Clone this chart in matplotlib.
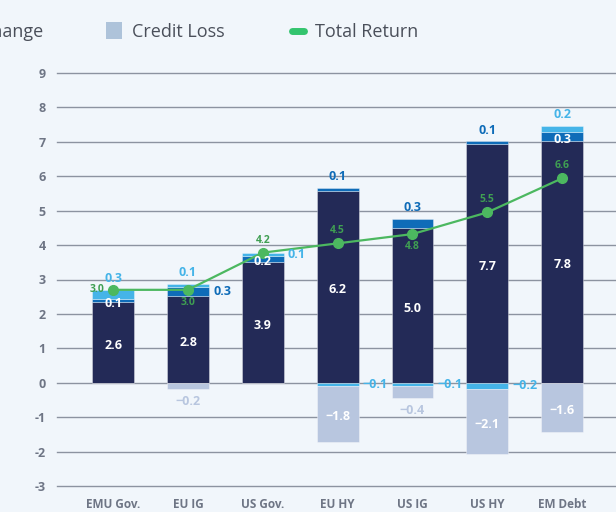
import matplotlib.pyplot as plt
import numpy as np

# return decomposition per asset class (%)
categories = ["EMU Gov.", "EU IG", "US Gov.", "EU HY", "US IG", "US HY", "EM Debt"]
yield_part = [2.6, 2.8, 3.9, 6.2, 5.0, 7.7, 7.8]
roll_down = [0.1, 0.3, 0.2, 0.1, 0.3, 0.1, 0.3]
spread_change = [0.3, 0.1, 0.1, -0.1, -0.1, -0.2, 0.2]
credit_loss = [0.0, -0.2, 0.0, -1.8, -0.4, -2.1, -1.6]
total_return = [3.0, 3.0, 4.2, 4.5, 4.8, 5.5, 6.6]
y_ticks = list(range(-3, 10))

# where each value label sits
roll_pos = ["in", "right", "in", "above", "above", "above", "in"]
spread_pos = ["above", "above", "right", "right", "right", "right", "above"]
credit_pos = [None, "below", None, "in", "below", "in", "in"]
total_pos = ["left", "below", "above", "above", "below", "above", "above"]

# in the original the gridlines are spaced a bit wider than the bars' units
axis_ratio = 0.9

navy = "#232a57"
mid = "#0f6cb8"
light = "#45b4e8"
loss = "#b8c6df"
green = "#4cb860"
bg = "#f1f6fb"
grey = "#6e7585"

plt.rcParams["font.family"] = ["Open Sans", "DejaVu Sans"]

fig = plt.figure(figsize=(6.16, 5.12), dpi=100, facecolor=bg)
ax = fig.add_axes([57 / 616, 26 / 512, 1 - 57 / 616, 413 / 512])
ax.set_facecolor(bg)

x = np.arange(len(categories))
w = 0.56
yl = np.array(yield_part)
rd = np.array(roll_down)
sc = np.array(spread_change)
cl = np.array(credit_loss)

edge = dict(edgecolor=(1, 1, 1, 0.35), linewidth=0.7, zorder=3)
ax.bar(x, yl, w, color=navy, **edge)
ax.bar(x, rd, w, bottom=yl, color=mid, **edge)
sc_bottom = np.where(sc > 0, yl + rd, 0)
ax.bar(x, sc, w, bottom=sc_bottom, color=light, **edge)
cl_bottom = np.where(sc < 0, sc, 0)
ax.bar(x, cl, w, bottom=cl_bottom, color=loss, **edge)

ax.plot(x, total_return, color=green, lw=1.6, marker="o", ms=7, zorder=5)

for t in y_ticks:
    ax.axhline(t / axis_ratio, color="#8c93a0", lw=1.0, zorder=1, clip_on=False)

ax.set_xlim(-0.75, 6.72)
ax.set_ylim(-3 / axis_ratio, 9 / axis_ratio)
ax.set_yticks([t / axis_ratio for t in y_ticks])
ax.set_yticklabels([str(t) for t in y_ticks])
ax.set_xticks(x)
ax.set_xticklabels(categories)
ax.tick_params(length=0, labelsize=9, labelcolor=grey)
ax.tick_params(axis="y", pad=8)
ax.tick_params(axis="x", pad=9, labelsize=8.5)
for lab in ax.get_xticklabels() + ax.get_yticklabels():
    lab.set_fontweight("bold")
for s in ax.spines.values():
    s.set_visible(False)


def fmt(v):
    return ("\u2212" if v < 0 else "") + f"{abs(v):.1f}"


def label(i, lo, hi, val, pos, color, inner="white"):
    top = max(lo, hi)
    bot = min(lo, hi)
    if pos == "in":
        ax.annotate(fmt(val), ((i), (lo + hi) / 2), xytext=(0, -2), textcoords="offset points",
                    ha="center", va="center", color=inner, fontsize=9, fontweight="bold", zorder=6)
    elif pos == "above":
        ax.annotate(fmt(val), (i, top), xytext=(0, 8), textcoords="offset points",
                    ha="center", va="center", color=color, fontsize=9, fontweight="bold", zorder=6)
    elif pos == "below":
        ax.annotate(fmt(val), (i, bot), xytext=(0, -9), textcoords="offset points",
                    ha="center", va="center", color=color, fontsize=9, fontweight="bold", zorder=6)
    elif pos == "right":
        ax.annotate(fmt(val), (i + w / 2, (lo + hi) / 2), xytext=(3, 0), textcoords="offset points",
                    ha="left", va="center", color=color, fontsize=9, fontweight="bold", zorder=6)


for i in range(len(categories)):
    ax.annotate(fmt(yl[i]), (i, yl[i] / 2), xytext=(0, -2), textcoords="offset points",
                ha="center", va="center", color="white", fontsize=9, fontweight="bold", zorder=6)
    label(i, yl[i], yl[i] + rd[i], rd[i], roll_pos[i], mid)
    label(i, sc_bottom[i], sc_bottom[i] + sc[i], sc[i], spread_pos[i], light)
    if credit_pos[i]:
        label(i, cl_bottom[i], cl_bottom[i] + cl[i], cl[i], credit_pos[i], loss)
    p = total_pos[i]
    off = {"left": (-6, 0, "right"), "above": (0, 9, "center"), "below": (0, -9, "center")}[p]
    ax.annotate(fmt(total_return[i]), (i, total_return[i]), xytext=off[:2], textcoords="offset points",
                ha=off[2], va="center", color="#3f9f52", fontsize=7.5, fontweight="bold", zorder=7)

# legend (the original is cropped on the left)
fy = 1 - 32 / 512
fig.text(43 / 616, fy, "Spread Change", ha="right", va="center", fontsize=13, color="#4a4f5a")
fig.patches.append(plt.Rectangle((106 / 616, 1 - 39 / 512), 16 / 616, 17 / 512, transform=fig.transFigure,
                                 facecolor="#aec3da", edgecolor="none"))
fig.text(132 / 616, fy, "Credit Loss", ha="left", va="center", fontsize=13, color="#4a4f5a")
fig.add_artist(plt.Line2D([292 / 616, 304 / 616], [1 - 31 / 512] * 2, transform=fig.transFigure,
                          color="#33c46e", lw=5, solid_capstyle="round"))
fig.text(315 / 616, fy, "Total Return", ha="left", va="center", fontsize=13, color="#4a4f5a")

fig.savefig("out.png", dpi=100, facecolor=bg)
